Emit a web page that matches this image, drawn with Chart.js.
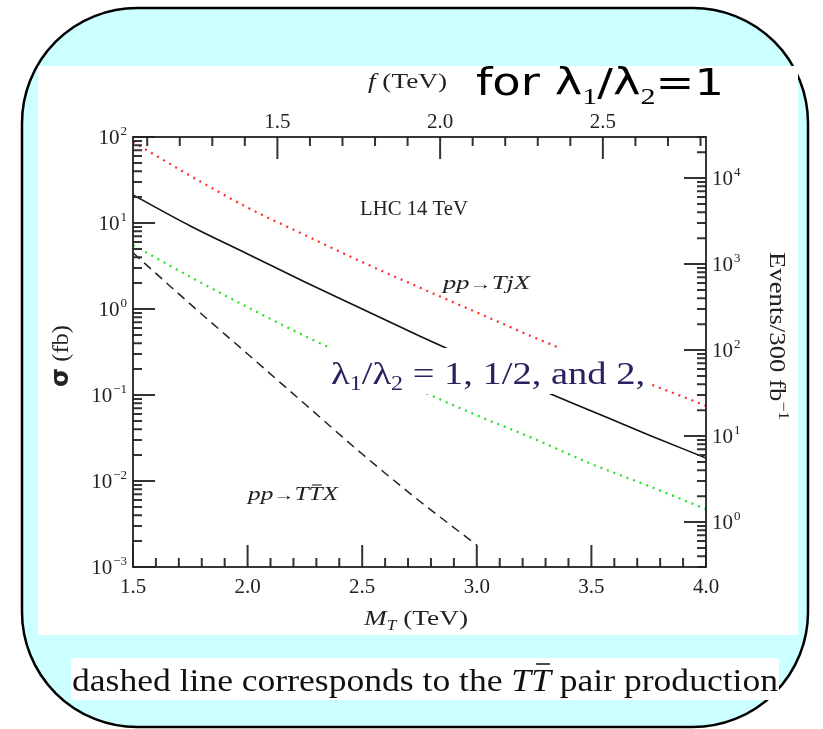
<!DOCTYPE html>
<html><head><meta charset="utf-8">
<script src="https://cdn.jsdelivr.net/npm/chart.js@4.4.0/dist/chart.umd.min.js"></script>
<style>html,body{margin:0;padding:0;background:#fff;overflow:hidden}canvas{display:block}</style>
</head><body>
<canvas id="c" width="823" height="729"></canvas>
<script>
// ---- data (sigma in fb vs M_T in TeV) ----
const mT = [1.5, 1.75, 2.0, 2.25, 2.5, 2.75, 3.0, 3.25, 3.5, 3.75, 4.0];
const sigmaTjXRed   = [87.5, 35.5, 15.1, 7.24, 3.51, 1.78, 0.912, 0.468, 0.248, 0.136, 0.075];
const sigmaTjXBlack = [21.2, 9.23, 4.37, 2.06, 1.0, 0.485, 0.242, 0.124, 0.0652, 0.0343, 0.0185];
const sigmaTjXGreen = [5.55, 2.36, 1.05, 0.485, 0.236, 0.114, 0.058, 0.031, 0.0158, 0.00875, 0.0047];
const mTPair = [1.5, 1.75, 2.0, 2.25, 2.5, 2.75, 3.0];
const sigmaTTbar = [4.5, 1.14, 0.30, 0.0785, 0.0206, 0.00585, 0.0018];

// ---- axes ----
const xTickValues = [1.5, 2.0, 2.5, 3.0, 3.5, 4.0];
const xTickLabels = ['1.5', '2.0', '2.5', '3.0', '3.5', '4.0'];
const fTickValues = [1.5, 2.0, 2.5];
const fTickLabels = ['1.5', '2.0', '2.5'];
const sigmaDecades = [-3, -2, -1, 0, 1, 2];
const eventDecades = [0, 1, 2, 3, 4];
const mTperF = 1.42;     // M_T / f
const lumi = 300;        // fb^-1

const SERIF = '"Liberation Serif", "DejaVu Serif", serif';
const SANS = '"DejaVu Sans", "Liberation Sans", sans-serif';

function pts(xs, ys) { return xs.map((x, i) => ({ x: x, y: ys[i] })); }

function drawRuns(ctx, runs, x, y, target, align) {
  ctx.save();
  let total = 0;
  runs.forEach(r => { ctx.font = r.font; r.w = ctx.measureText(r.t).width; total += r.w; });
  const s = target ? target / total : 1;
  let x0 = x;
  if (align === 'center') x0 = x - total * s / 2;
  ctx.translate(x0, y);
  ctx.scale(s, 1);
  let cx = 0;
  runs.forEach(r => {
    ctx.font = r.font;
    ctx.textBaseline = 'alphabetic';
    ctx.textAlign = 'left';
    ctx.fillText(r.t, cx, r.dy || 0);
    if (r.bar) {
      ctx.beginPath();
      ctx.lineWidth = r.barW || 1.3;
      ctx.strokeStyle = ctx.fillStyle;
      ctx.moveTo(cx + r.w * 0.25, -r.barY);
      ctx.lineTo(cx + r.w * 0.95, -r.barY);
      ctx.stroke();
    }
    cx += r.w;
  });
  ctx.restore();
}

function pow10Label(ctx, exp, x, y, align) {
  const base = '10';
  const e = exp < 0 ? '\u2212' + (-exp) : String(exp);
  ctx.font = '21px ' + SERIF;
  const wb = ctx.measureText(base).width;
  ctx.font = '13px ' + SERIF;
  const we = ctx.measureText(e).width;
  const x0 = align === 'right' ? x - wb - we - 1 : x;
  ctx.textAlign = 'left';
  ctx.textBaseline = 'alphabetic';
  ctx.font = '21px ' + SERIF;
  ctx.fillText(base, x0, y + 7);
  ctx.font = '13px ' + SERIF;
  ctx.fillText(e, x0 + wb + 1, y - 2);
}

const backgroundPlugin = {
  id: 'bg',
  beforeDraw(chart) {
    const ctx = chart.ctx;
    ctx.save();
    ctx.fillStyle = '#ffffff';
    ctx.fillRect(0, 0, chart.width, chart.height);
    const bx = 22, by = 8, bw = 786, bh = 719, r = 115;
    ctx.beginPath();
    ctx.moveTo(bx + r, by);
    ctx.lineTo(bx + bw - r, by);
    ctx.arcTo(bx + bw, by, bx + bw, by + r, r);
    ctx.lineTo(bx + bw, by + bh - r);
    ctx.arcTo(bx + bw, by + bh, bx + bw - r, by + bh, r);
    ctx.lineTo(bx + r, by + bh);
    ctx.arcTo(bx, by + bh, bx, by + bh - r, r);
    ctx.lineTo(bx, by + r);
    ctx.arcTo(bx, by, bx + r, by, r);
    ctx.closePath();
    ctx.fillStyle = '#ccffff';
    ctx.fill();
    ctx.lineWidth = 2.5;
    ctx.strokeStyle = '#000';
    ctx.stroke();
    ctx.fillStyle = '#ffffff';
    ctx.fillRect(38, 66, 760, 569);
    ctx.fillRect(71, 658, 708, 42);
    ctx.fillStyle = '#111';
    const cf = '32px ' + SERIF, cfi = 'italic 32px ' + SERIF;
    drawRuns(ctx, [
      { t: 'dashed line corresponds to the ', font: cf },
      { t: 'T', font: cfi },
      { t: 'T', font: cfi, bar: true, barY: 27, barW: 1.5 },
      { t: ' pair production', font: cf }
    ], 72, 691, 706);
    ctx.restore();
  }
};

const overlayPlugin = {
  id: 'overlay',
  afterDraw(chart) {
    const ctx = chart.ctx;
    const a = chart.chartArea;
    const sx = chart.scales.x, sy = chart.scales.y, sf = chart.scales.xTop, se = chart.scales.yRight;
    ctx.save();
    ctx.setLineDash([]);
    ctx.globalAlpha = 1;

    // label box covering the curves
    ctx.fillStyle = '#ffffff';
    ctx.fillRect(328, 348, 320, 46);
    ctx.fillStyle = '#2b2160';
    const lf = '32px ' + SERIF, ls = '20px ' + SERIF;
    drawRuns(ctx, [
      { t: '\u03bb', font: lf },
      { t: '1', font: ls, dy: 6 },
      { t: '/\u03bb', font: lf },
      { t: '2', font: ls, dy: 6 },
      { t: ' = 1, 1/2, and 2,', font: lf }
    ], 331, 384, 314);

    // ticks (one path)
    const tp = new Path2D();
    const seg = (x1, y1, x2, y2) => { tp.moveTo(x1, y1); tp.lineTo(x2, y2); };
    for (let k = 15; k <= 40; k++) {
      const px = sx.getPixelForValue(k / 10);
      seg(px, a.bottom, px, a.bottom - (k % 5 === 0 ? 22 : 9));
    }
    for (let k = 11; k <= 28; k++) {
      const px = sf.getPixelForValue(k / 10);
      seg(px, a.top, px, a.top + (k % 5 === 0 ? 22 : 9));
    }
    sigmaDecades.forEach(d => {
      const py = sy.getPixelForValue(Math.pow(10, d));
      seg(a.left, py, a.left + 22, py);
      if (d < 2) for (let m = 2; m <= 9; m++) {
        const q = sy.getPixelForValue(m * Math.pow(10, d));
        seg(a.left, q, a.left + 9, q);
      }
    });
    for (let d = -1; d <= 4; d++) {
      const py = se.getPixelForValue(Math.pow(10, d));
      if (py >= a.top && py <= a.bottom) seg(a.right, py, a.right - 22, py);
      for (let m = 2; m <= 9; m++) {
        const q = se.getPixelForValue(m * Math.pow(10, d));
        if (q >= a.top && q <= a.bottom) seg(a.right, q, a.right - 9, q);
      }
    }
    ctx.strokeStyle = '#333333';
    ctx.lineWidth = 2;
    ctx.stroke(tp);

    // frame
    ctx.strokeStyle = '#222222';
    ctx.lineWidth = 1.8;
    ctx.strokeRect(a.left, a.top, a.right - a.left, a.bottom - a.top);

    // tick labels
    ctx.fillStyle = '#222';
    ctx.font = '21px ' + SERIF;
    ctx.textAlign = 'center';
    ctx.textBaseline = 'alphabetic';
    xTickValues.forEach((v, i) => ctx.fillText(xTickLabels[i], sx.getPixelForValue(v), 593));
    fTickValues.forEach((v, i) => ctx.fillText(fTickLabels[i], sf.getPixelForValue(v), 128));
    sigmaDecades.forEach(d => pow10Label(ctx, d, a.left - 6, sy.getPixelForValue(Math.pow(10, d)), 'right'));
    eventDecades.forEach(d => pow10Label(ctx, d, a.right + 6, se.getPixelForValue(Math.pow(10, d)), 'left'));

    // axis titles
    drawRuns(ctx, [
      { t: 'M', font: 'italic 22px ' + SERIF },
      { t: 'T', font: 'italic 14px ' + SERIF, dy: 5 },
      { t: ' (TeV)', font: '22px ' + SERIF }
    ], 416, 625, 104, 'center');
    drawRuns(ctx, [
      { t: 'f', font: 'italic 20px ' + SERIF },
      { t: ' (TeV)', font: '20px ' + SERIF }
    ], 368, 88, 79);
    ctx.save();
    ctx.translate(68, 356);
    ctx.rotate(-Math.PI / 2);
    drawRuns(ctx, [
      { t: '\u03c3', font: 'bold 24px ' + SANS },
      { t: ' (fb)', font: '24px ' + SERIF }
    ], 0, 0, 62, 'center');
    ctx.restore();
    ctx.save();
    ctx.translate(770, 336);
    ctx.rotate(Math.PI / 2);
    drawRuns(ctx, [
      { t: 'Events/300 fb', font: '23px ' + SERIF },
      { t: '\u22121', font: '15px ' + SERIF, dy: -9 }
    ], 0, 0, 168, 'center');
    ctx.restore();

    // in-plot annotations
    drawRuns(ctx, [{ t: 'LHC 14 TeV', font: '20px ' + SERIF }], 360, 215, 108);
    const pf = 'italic 18px ' + SERIF, af = '15px ' + SERIF;
    drawRuns(ctx, [
      { t: 'pp', font: pf }, { t: '\u2192', font: af }, { t: 'TjX', font: pf }
    ], 443, 289, 87);
    drawRuns(ctx, [
      { t: 'pp', font: pf }, { t: '\u2192', font: af }, { t: 'T', font: pf },
      { t: 'T', font: pf, bar: true, barY: 15, barW: 1.1 }, { t: 'X', font: pf }
    ], 248, 500, 90);

    // headline
    ctx.fillStyle = '#000';
    drawRuns(ctx, [
      { t: 'for \u03bb', font: '37px ' + SANS },
      { t: '1', font: '24px ' + SERIF, dy: 9 },
      { t: '/\u03bb', font: '37px ' + SANS },
      { t: '2', font: '24px ' + SERIF, dy: 9 },
      { t: '=1', font: '37px ' + SANS }
    ], 476, 95, 248);
    ctx.restore();
  }
};

new Chart(document.getElementById('c'), {
  type: 'line',
  data: {
    datasets: [
      { label: 'pp\u2192TjX (red)', data: pts(mT, sigmaTjXRed), borderColor: '#ff2a2a', borderWidth: 2.2, borderDash: [2, 5], pointRadius: 0, cubicInterpolationMode: 'monotone', xAxisID: 'x', yAxisID: 'y' },
      { label: 'pp\u2192TjX, \u03bb1/\u03bb2 = 1', data: pts(mT, sigmaTjXBlack), borderColor: '#111', borderWidth: 1.6, pointRadius: 0, cubicInterpolationMode: 'monotone', xAxisID: 'x', yAxisID: 'y' },
      { label: 'pp\u2192TjX (green)', data: pts(mT, sigmaTjXGreen), borderColor: '#22e022', borderWidth: 2.2, borderDash: [2, 5], pointRadius: 0, cubicInterpolationMode: 'monotone', xAxisID: 'x', yAxisID: 'y' },
      { label: 'pp\u2192TT\u0304X', data: pts(mTPair, sigmaTTbar), borderColor: '#222', borderWidth: 1.5, borderDash: [9, 6], pointRadius: 0, cubicInterpolationMode: 'monotone', xAxisID: 'x', yAxisID: 'y' }
    ]
  },
  options: {
    responsive: false,
    animation: false,
    devicePixelRatio: 1,
    layout: { padding: { left: 133, top: 137, right: 117, bottom: 162 } },
    plugins: { legend: { display: false }, tooltip: { enabled: false } },
    scales: {
      x: { type: 'linear', min: 1.5, max: 4.0, display: false },
      y: { type: 'logarithmic', min: 1e-3, max: 1e2, display: false },
      xTop: { type: 'linear', position: 'top', min: 1.5 / mTperF, max: 4.0 / mTperF, display: false },
      yRight: { type: 'logarithmic', position: 'right', min: 1e-3 * lumi, max: 1e2 * lumi, display: false }
    }
  },
  plugins: [backgroundPlugin, overlayPlugin]
});
</script>
</body></html>
